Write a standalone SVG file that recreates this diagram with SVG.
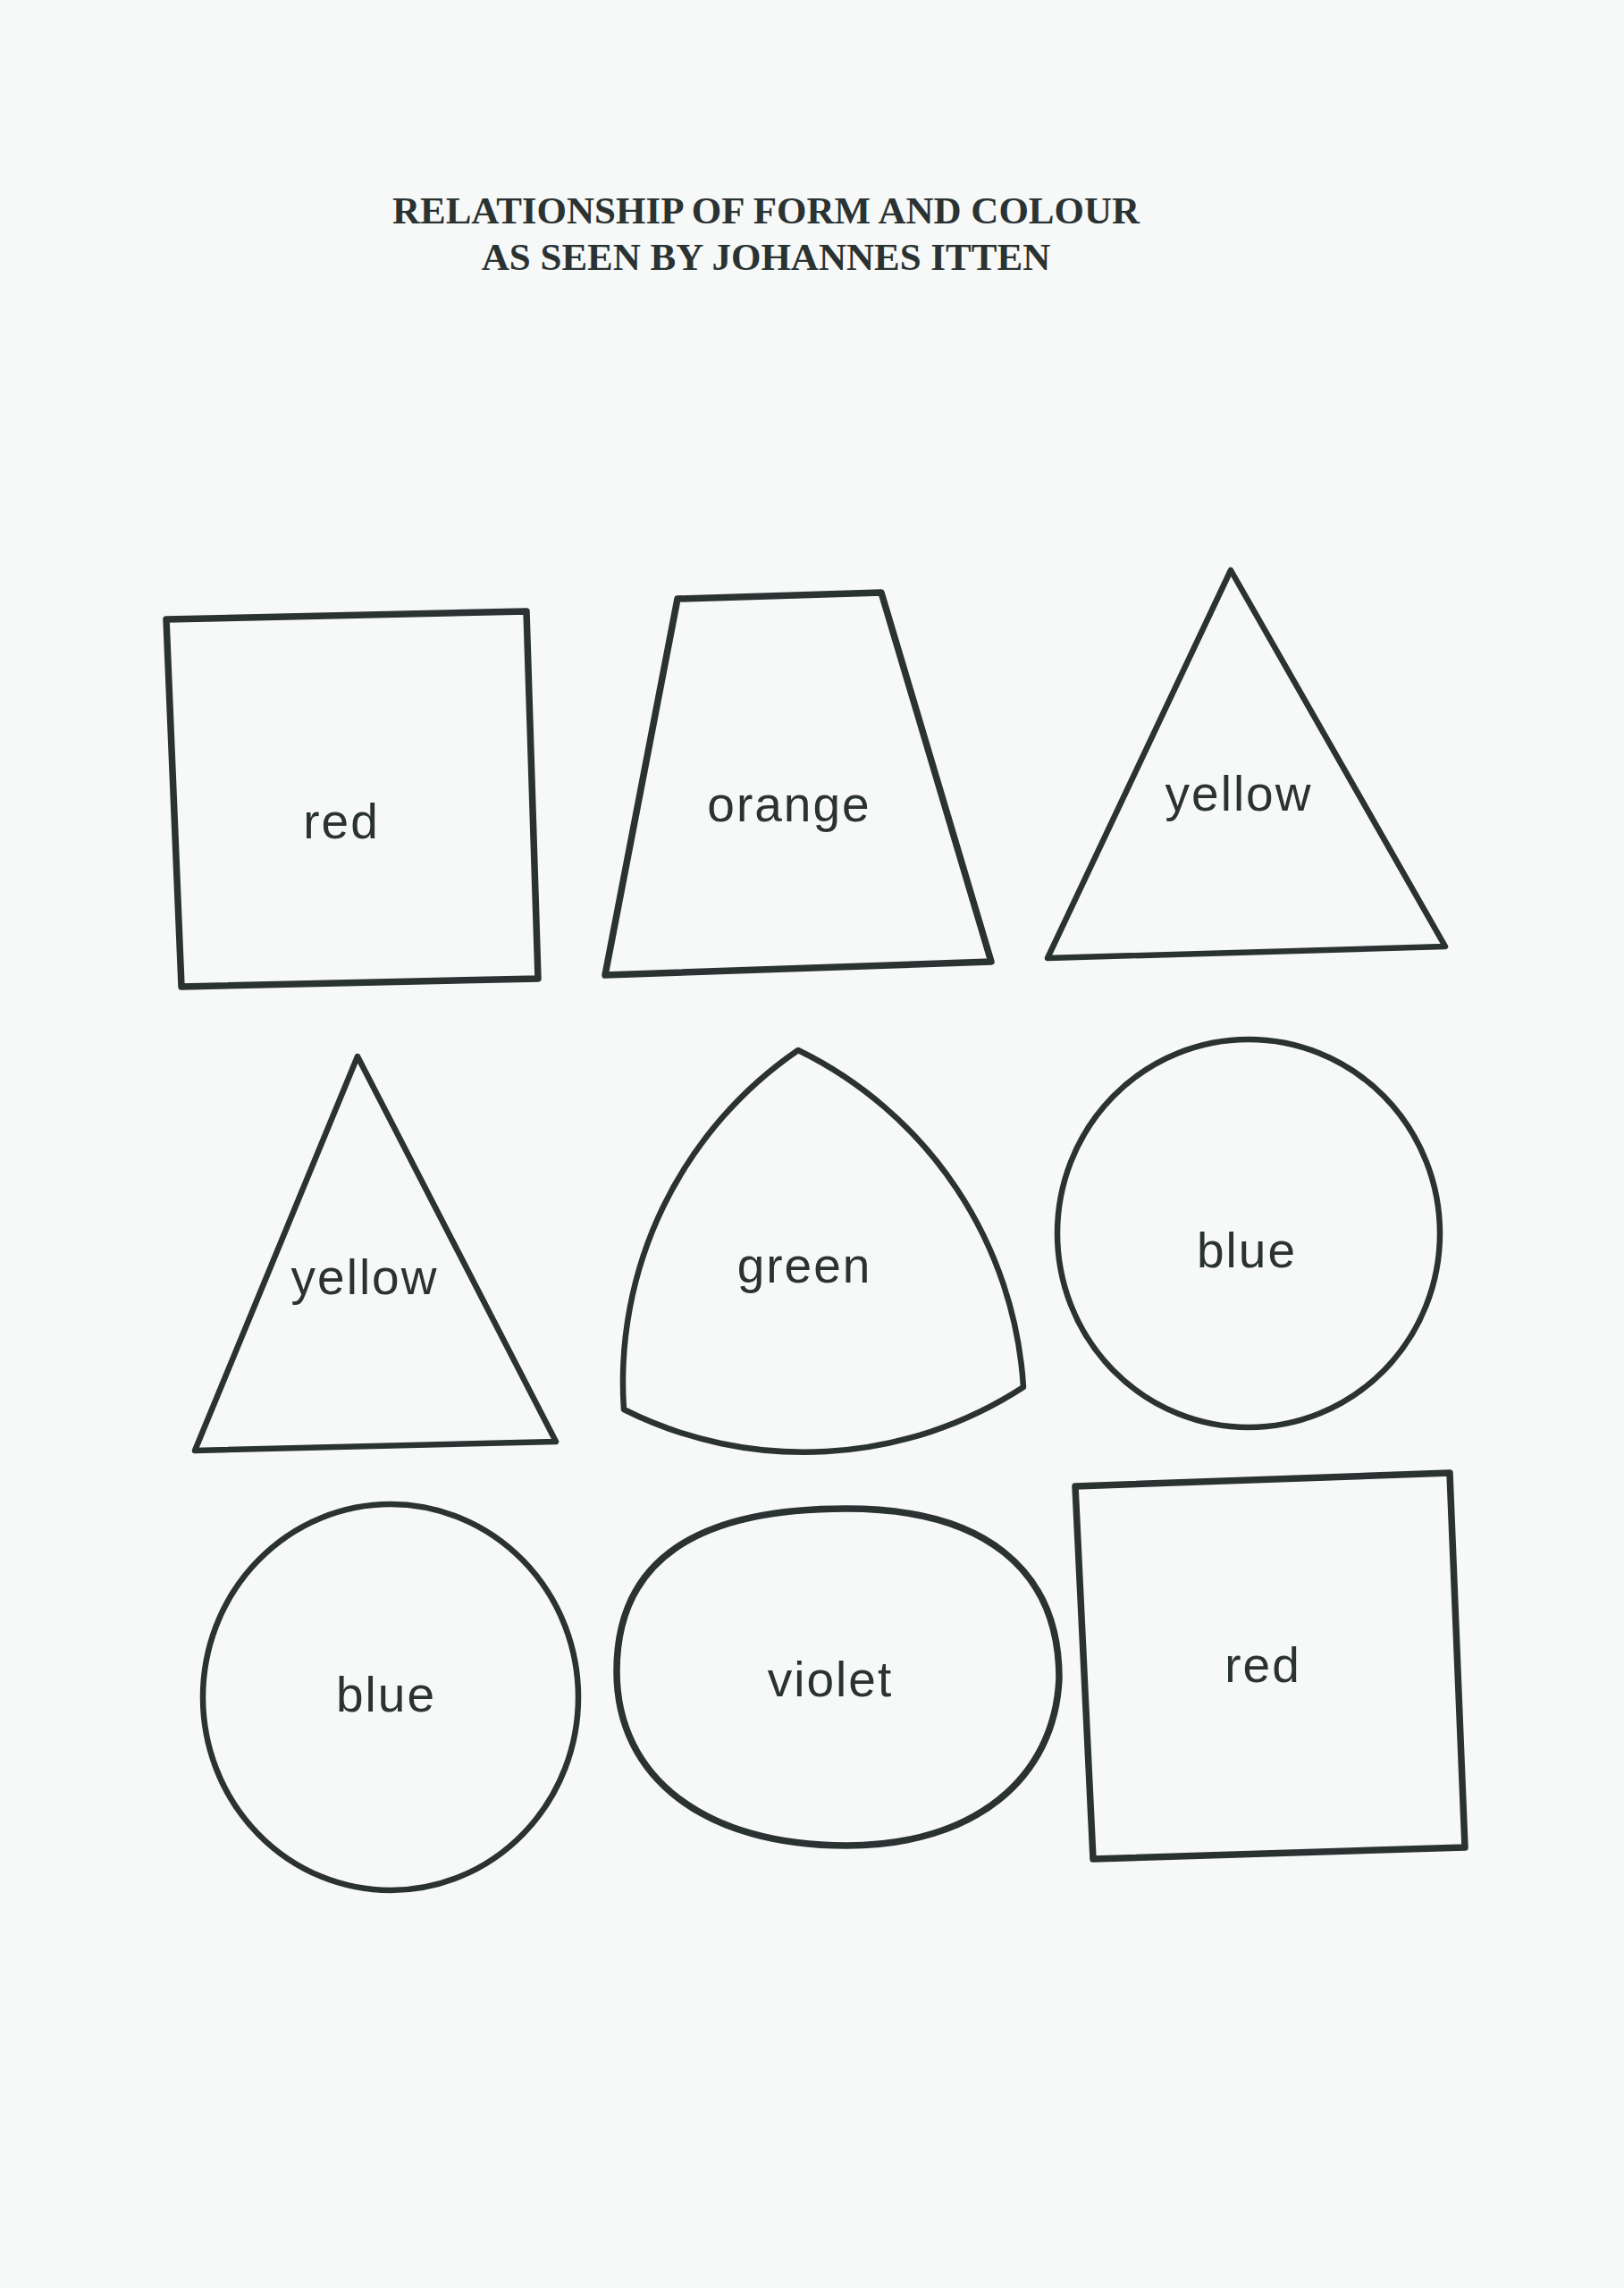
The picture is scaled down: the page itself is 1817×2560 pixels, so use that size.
<svg xmlns="http://www.w3.org/2000/svg" width="1817" height="2560" viewBox="0 0 1817 2560">
<style>
.shape{fill:none;stroke:#2b3332;stroke-width:6.5;stroke-linejoin:round;stroke-linecap:round}
.thick{stroke-width:7.5}
.label{font-family:"Liberation Sans",Arial,sans-serif;font-size:55px;fill:#2b3332;text-anchor:middle;letter-spacing:2px}
.title{font-family:"Liberation Serif","Times New Roman",serif;font-weight:bold;font-size:43px;fill:#2b3332;text-anchor:middle}
</style>
<rect x="0" y="0" width="1817" height="2560" fill="#f7f9f9"/>
<g id="title">
<text class="title" x="857" y="250">RELATIONSHIP OF FORM AND COLOUR</text>
<text class="title" x="857" y="302">AS SEEN BY JOHANNES ITTEN</text>
</g>
<g id="connectors"></g>
<g id="square-red-1">
<polygon class="shape thick" points="186,693 589,684 602,1095 203,1104"/>
<text class="label" x="382" y="938">red</text>
</g>
<g id="trapezoid-orange">
<polygon class="shape thick" points="758,670 986,663 1109,1076 677,1091"/>
<text class="label" x="883" y="919">orange</text>
</g>
<g id="triangle-yellow-1">
<polygon class="shape" points="1377,638 1617,1059 1172,1072"/>
<text class="label" x="1386" y="907">yellow</text>
</g>
<g id="triangle-yellow-2">
<polygon class="shape" points="400,1182 622,1613 218,1623"/>
<text class="label" x="408" y="1448">yellow</text>
</g>
<g id="reuleaux-green">
<path class="shape" d="M 893 1175 A 450 450 0 0 1 1145 1552 A 450 450 0 0 1 698 1577 A 450 450 0 0 1 893 1175 Z"/>
<text class="label" x="900" y="1435">green</text>
</g>
<g id="circle-blue-1">
<ellipse class="shape" cx="1397" cy="1380" rx="214" ry="217"/>
<text class="label" x="1395" y="1418">blue</text>
</g>
<g id="circle-blue-2">
<ellipse class="shape" cx="437" cy="1899" rx="210" ry="216"/>
<text class="label" x="432" y="1915">blue</text>
</g>
<g id="oval-violet">
<path class="shape thick" d="M 690 1870 C 690 1745 780 1688 947 1688 C 1100 1688 1185 1755 1185 1878 C 1180 1990 1090 2065 947 2065 C 790 2065 690 1990 690 1870 Z"/>
<text class="label" x="929" y="1898">violet</text>
</g>
<g id="square-red-2">
<polygon class="shape thick" points="1203,1663 1622,1648 1639,2067 1223,2080"/>
<text class="label" x="1413" y="1882">red</text>
</g>
</svg>
